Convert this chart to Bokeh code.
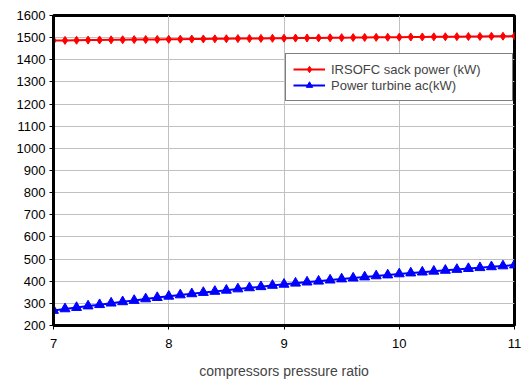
from bokeh.plotting import figure
from bokeh.models import Legend, LegendItem, FixedTicker, Range1d
from bokeh.embed import file_html
from bokeh.resources import INLINE

pressure_ratio = [7.0, 7.1, 7.2, 7.3, 7.4, 7.5, 7.6, 7.7, 7.8, 7.9,
                  8.0, 8.1, 8.2, 8.3, 8.4, 8.5, 8.6, 8.7, 8.8, 8.9,
                  9.0, 9.1, 9.2, 9.3, 9.4, 9.5, 9.6, 9.7, 9.8, 9.9,
                  10.0, 10.1, 10.2, 10.3, 10.4, 10.5, 10.6, 10.7, 10.8, 10.9, 11.0]

stack_power = [1487.0, 1487.6, 1488.2, 1488.8, 1489.4, 1490.0, 1490.6, 1491.1, 1491.6, 1492.1,
               1492.6, 1493.1, 1493.6, 1494.1, 1494.6, 1495.1, 1495.6, 1496.0, 1496.5, 1497.0,
               1497.5, 1498.0, 1498.4, 1498.9, 1499.4, 1499.9, 1500.3, 1500.8, 1501.3, 1501.7,
               1502.2, 1502.7, 1503.1, 1503.6, 1504.1, 1504.5, 1505.0, 1505.5, 1506.0, 1506.5, 1507.0]

turbine_power = [268, 275, 281, 288, 294, 301, 307, 313, 320, 326,
                 332, 338, 343, 349, 354, 359, 365, 370, 375, 381,
                 386, 391, 396, 400, 405, 410, 414, 419, 424, 428,
                 433, 437, 441, 445, 449, 453, 457, 461, 465, 469, 473]

x_ticks = [7, 8, 9, 10, 11]
y_ticks = list(range(200, 1700, 100))

series_labels = ["IRSOFC sack power (kW)", "Power turbine ac(kW)"]
x_title = "compressors pressure ratio"

FONT = "Liberation Sans"

p = figure(width=522, height=381, output_backend="svg", toolbar_location=None,
           x_range=Range1d(7, 11), y_range=Range1d(200, 1600),
           min_border_left=53, min_border_right=8, min_border_top=15, min_border_bottom=54)

p.outline_line_color = "black"
p.outline_line_width = 3
p.outline_line_alpha = 1

for ax in (p.xaxis[0], p.yaxis[0]):
    ax.axis_line_color = "black"
    ax.axis_line_width = 3
    ax.major_tick_line_color = "black"
    ax.major_tick_line_width = 1
    ax.major_tick_out = 4
    ax.major_tick_in = 0
    ax.minor_tick_line_color = None
    ax.major_label_text_font = FONT
    ax.major_label_text_font_size = "13px"
    ax.major_label_text_color = "black"

p.xaxis.ticker = FixedTicker(ticks=x_ticks)
p.yaxis.ticker = FixedTicker(ticks=y_ticks)
p.xaxis.major_label_standoff = 9
p.yaxis.major_label_standoff = 4
p.xaxis.axis_label = x_title
p.xaxis.axis_label_text_font = FONT
p.xaxis.axis_label_text_font_size = "14px"
p.xaxis.axis_label_text_font_style = "normal"
p.xaxis.axis_label_standoff = 12

p.xgrid.grid_line_color = "#c0c0c0"
p.ygrid.grid_line_color = "#c0c0c0"
p.xgrid.grid_line_width = 1
p.ygrid.grid_line_width = 1

r1 = p.line(pressure_ratio, stack_power, line_color="#ff0000", line_width=2)
m1 = p.scatter(pressure_ratio, stack_power, marker="diamond", size=8,
               fill_color="#ff0000", line_color="#ff0000")
r2 = p.line(pressure_ratio, turbine_power, line_color="#0000ff", line_width=2)
m2 = p.scatter(pressure_ratio, turbine_power, marker="triangle", size=10,
               fill_color="#0000ff", line_color="#0000ff")

legend = Legend(items=[LegendItem(label=series_labels[0], renderers=[r1, m1]),
                       LegendItem(label=series_labels[1], renderers=[r2, m2])],
                location=(232, 224))
legend.border_line_color = "black"
legend.border_line_width = 1
legend.background_fill_color = "white"
legend.background_fill_alpha = 1
legend.label_text_font = FONT
legend.label_text_font_size = "13px"
legend.glyph_width = 32
legend.glyph_height = 16
legend.label_height = 16
legend.label_width = 174
legend.spacing = 0
legend.padding = 7
legend.margin = 0
legend.label_standoff = 6
p.add_layout(legend, "center")

open("out.html", "w").write(file_html(p, INLINE))
